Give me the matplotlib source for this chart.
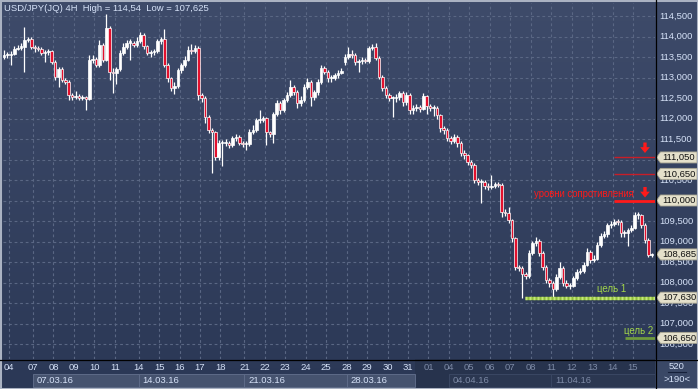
import numpy as np
import matplotlib.pyplot as plt
from matplotlib.patches import Polygon, Rectangle
from matplotlib.lines import Line2D

plt.rcParams['font.family'] = ['Liberation Sans', 'DejaVu Sans']

# ---- data: USD/JPY 4H candles ----
opens = [
    113.50, 113.55, 113.55, 113.58, 113.70, 113.73, 113.75, 113.91, 113.95, 113.75,
    113.72, 113.70, 113.60, 113.62, 113.65, 113.38, 113.01, 113.20, 112.94, 112.90,
    112.57, 112.52, 112.55, 112.50, 112.53, 112.48, 113.43, 113.45, 113.30, 113.80,
    113.43, 114.20, 113.13, 113.10, 113.20, 113.60, 113.75, 113.85, 113.85, 113.80,
    113.90, 114.03, 113.76, 113.60, 113.62, 113.65, 113.88, 113.95, 113.30, 112.98,
    112.74, 112.80, 113.18, 113.30, 113.43, 113.67, 113.65, 113.72, 112.57, 112.50,
    112.03, 111.72, 111.67, 111.06, 111.40, 111.40, 111.40, 111.35, 111.52, 111.55,
    111.40, 111.38, 111.38, 111.67, 111.72, 111.96, 111.97, 112.00, 111.67, 111.62,
    112.10, 112.38, 112.20, 112.45, 112.57, 112.77, 112.65, 112.38, 112.45, 112.77,
    112.89, 112.52, 112.64, 112.89, 113.23, 113.13, 112.98, 113.00, 113.05, 113.12,
    113.38, 113.50, 113.57, 113.55, 113.37, 113.40, 113.42, 113.40, 113.72, 113.75,
    113.47, 113.02, 112.74, 112.57, 112.50, 112.50, 112.52, 112.62, 112.40, 112.57,
    112.20, 112.25, 112.28, 112.23, 112.55, 112.30, 112.25, 112.25, 112.08, 111.77,
    111.72, 111.52, 111.45, 111.55, 111.40, 111.15, 111.10, 110.94, 110.87, 110.50,
    110.45, 110.45, 110.35, 110.33, 110.35, 110.40, 110.38, 109.72, 109.70, 109.52,
    109.09, 108.38, 108.35, 108.20, 108.15, 108.72, 108.97, 109.00, 108.72, 108.38,
    108.06, 108.00, 107.85, 108.13, 108.35, 107.99, 107.92, 107.92, 108.10, 108.25,
    108.28, 108.43, 108.75, 108.55, 108.58, 108.91, 109.14, 109.18, 109.40, 109.43,
    109.48, 109.47, 109.20, 109.20, 109.28, 109.33, 109.65, 109.65, 109.40, 109.03,
    108.67,
]
highs = [
    113.66, 113.62, 113.64, 113.76, 113.80, 113.84, 114.23, 114.00, 114.00, 113.80,
    113.78, 113.74, 113.68, 113.70, 113.68, 113.42, 113.26, 113.25, 113.00, 112.95,
    112.62, 112.68, 112.60, 112.58, 112.56, 113.55, 113.55, 113.50, 113.92, 113.85,
    114.54, 114.25, 113.22, 113.26, 113.66, 113.85, 113.92, 113.95, 113.90, 113.98,
    114.10, 114.08, 113.80, 113.68, 113.70, 113.94, 114.00, 114.18, 113.35, 113.02,
    112.88, 113.24, 113.36, 113.52, 113.78, 113.82, 113.80, 113.76, 112.62, 112.55,
    112.08, 111.78, 111.70, 111.48, 111.48, 111.50, 111.46, 111.58, 111.62, 111.60,
    111.46, 111.45, 111.75, 111.85, 112.02, 112.20, 112.06, 112.04, 111.70, 112.16,
    112.45, 112.42, 112.50, 112.65, 112.94, 112.82, 112.70, 112.55, 112.85, 112.98,
    112.94, 112.70, 112.96, 113.30, 113.28, 113.18, 113.06, 113.10, 113.18, 113.22,
    113.58, 113.75, 113.67, 113.60, 113.46, 113.50, 113.48, 113.78, 113.82, 113.85,
    113.52, 113.06, 112.80, 112.62, 112.56, 112.60, 112.68, 112.66, 112.64, 112.62,
    112.32, 112.35, 112.33, 112.62, 112.58, 112.36, 112.34, 112.30, 112.12, 111.82,
    111.76, 111.58, 111.62, 111.60, 111.44, 111.22, 111.14, 110.98, 110.92, 110.55,
    110.52, 110.50, 110.42, 110.62, 110.46, 110.46, 110.42, 109.80, 109.84, 109.56,
    109.12, 108.42, 108.40, 108.26, 108.80, 109.02, 109.12, 109.06, 108.76, 108.42,
    108.12, 108.04, 108.20, 108.50, 108.40, 108.05, 108.00, 108.16, 108.32, 108.36,
    108.50, 108.84, 108.80, 108.66, 108.98, 109.20, 109.25, 109.46, 109.50, 109.56,
    109.55, 109.52, 109.28, 109.34, 109.40, 109.72, 109.72, 109.68, 109.44, 109.08,
    108.73,
]
lows = [
    113.44, 113.47, 113.30, 113.55, 113.66, 113.68, 113.13, 113.86, 113.70, 113.62,
    113.64, 113.55, 113.37, 113.56, 113.33, 112.95, 112.78, 112.88, 112.84, 112.45,
    112.45, 112.47, 112.44, 112.46, 112.20, 112.45, 113.35, 113.25, 113.25, 113.38,
    113.40, 112.95, 112.62, 112.85, 113.15, 113.55, 113.70, 113.42, 113.74, 113.75,
    113.85, 113.70, 113.55, 113.50, 113.56, 113.60, 113.82, 113.25, 112.90, 112.68,
    112.60, 112.74, 113.12, 113.26, 113.40, 113.58, 113.60, 112.45, 112.40, 111.90,
    111.65, 110.67, 110.98, 111.00, 110.85, 111.32, 111.28, 111.30, 111.46, 111.35,
    111.30, 111.23, 111.33, 111.62, 111.68, 111.90, 111.92, 111.35, 111.55, 111.40,
    112.05, 112.12, 112.15, 112.40, 112.52, 112.58, 112.25, 112.30, 112.40, 112.72,
    112.30, 112.46, 112.58, 112.85, 113.08, 112.90, 112.88, 112.95, 113.00, 113.08,
    113.30, 113.45, 113.48, 113.30, 113.13, 113.34, 113.35, 113.36, 113.66, 113.42,
    112.96, 112.68, 112.50, 112.42, 112.04, 112.40, 112.46, 112.30, 112.34, 112.10,
    112.12, 112.18, 112.16, 112.20, 112.10, 112.18, 112.05, 112.00, 111.68, 111.62,
    111.46, 111.38, 111.40, 111.30, 111.08, 111.02, 110.86, 110.80, 110.42, 110.38,
    109.94, 110.28, 110.25, 110.28, 110.30, 110.32, 109.60, 109.62, 109.46, 109.00,
    108.30, 108.28, 107.625, 108.08, 108.10, 108.68, 108.90, 108.65, 108.30, 107.98,
    107.90, 107.65, 107.80, 108.08, 107.92, 107.86, 107.85, 107.88, 108.05, 108.20,
    108.24, 108.40, 108.48, 108.50, 108.54, 108.86, 109.08, 109.12, 109.34, 109.38,
    109.40, 109.12, 109.10, 108.90, 109.22, 109.30, 109.56, 109.34, 108.96, 108.62,
    108.62,
]
closes = [
    113.55, 113.55, 113.58, 113.70, 113.73, 113.75, 113.91, 113.95, 113.75, 113.72,
    113.70, 113.60, 113.62, 113.65, 113.38, 113.01, 113.20, 112.94, 112.90, 112.57,
    112.52, 112.55, 112.50, 112.53, 112.48, 113.43, 113.45, 113.30, 113.80, 113.43,
    114.20, 113.13, 113.10, 113.20, 113.60, 113.75, 113.85, 113.85, 113.80, 113.90,
    114.03, 113.76, 113.60, 113.62, 113.65, 113.88, 113.95, 113.30, 112.98, 112.74,
    112.80, 113.18, 113.30, 113.43, 113.67, 113.65, 113.72, 112.57, 112.50, 112.03,
    111.72, 111.67, 111.06, 111.40, 111.40, 111.40, 111.35, 111.52, 111.55, 111.40,
    111.38, 111.38, 111.67, 111.72, 111.96, 111.97, 112.00, 111.67, 111.62, 112.10,
    112.38, 112.20, 112.45, 112.57, 112.77, 112.65, 112.38, 112.45, 112.77, 112.89,
    112.52, 112.64, 112.89, 113.23, 113.13, 112.98, 113.00, 113.05, 113.12, 113.15,
    113.50, 113.57, 113.55, 113.37, 113.40, 113.42, 113.40, 113.72, 113.75, 113.47,
    113.02, 112.74, 112.57, 112.50, 112.50, 112.52, 112.62, 112.40, 112.57, 112.20,
    112.25, 112.28, 112.23, 112.55, 112.30, 112.25, 112.25, 112.08, 111.77, 111.72,
    111.52, 111.45, 111.55, 111.40, 111.15, 111.10, 110.94, 110.87, 110.50, 110.45,
    110.45, 110.35, 110.33, 110.35, 110.40, 110.38, 109.72, 109.70, 109.52, 109.09,
    108.38, 108.35, 108.20, 108.15, 108.72, 108.97, 109.00, 108.72, 108.38, 108.06,
    108.00, 107.85, 108.13, 108.35, 107.99, 107.92, 107.92, 108.10, 108.25, 108.28,
    108.43, 108.75, 108.55, 108.58, 108.91, 109.14, 109.18, 109.40, 109.43, 109.48,
    109.47, 109.20, 109.20, 109.28, 109.33, 109.65, 109.65, 109.40, 109.03, 108.67,
    108.68,
]

# first bar of each trading day, and the day labels
day_start = [2, 9, 15, 21, 27, 33, 40, 46, 52, 58, 64, 71, 77, 83, 89, 95, 101,
             107, 113, 119, 125, 131, 137, 143, 149, 155, 161, 167, 173, 179, 185]
day_labels = ['04', '07', '08', '09', '10', '11', '14', '15', '16', '17', '18',
              '21', '22', '23', '24', '25', '28', '29', '30', '31', '01', '04',
              '05', '06', '07', '08', '11', '12', '13', '14', '15']
week_labels = ['07.03.16', '14.03.16', '21.03.16', '28.03.16', '04.04.16', '11.04.16']
week_first_day = [1, 6, 11, 16, 21, 26]

resist_levels = [111.05, 110.65, 110.00]
target_levels = [107.63, 106.65]
target_names = ['цель 1', 'цель 2']
last_price = 108.685
title = 'USD/JPY(JQ) 4H  High = 114,54  Low = 107,625'

# ---- layout helpers (pixel space of the 698x389 image) ----
W, H = 698, 389
PX_PER_BAR = 3.409
PX_PER_YEN = 41.0


def rect(x0, y0, x1, y1):
    return [x0 / W, 1 - y1 / H, (x1 - x0) / W, (y1 - y0) / H]


def px2bar(px):
    return (px - 4) / PX_PER_BAR


def py2price(py):
    return 110 + (200.5 - py) / PX_PER_YEN


def fmt(v):
    return f'{v:.3f}'.replace('.', ',')


TXT = '#d6e2f8'
DIM = '#7d8aa6'
GRID = '#5a6784'
FS = 6.8

fig = plt.figure(figsize=(W / 100, H / 100), dpi=100)

# gradient background
bg = fig.add_axes([0, 0, 1, 1], zorder=-10)
top_c = np.array([62, 75, 106]) / 255
bot_c = np.array([43, 56, 86]) / 255
t = np.linspace(0, 1, 256)[:, None, None]
bg.imshow(top_c + (bot_c - top_c) * t, aspect='auto', extent=[0, 1, 0, 1], origin='upper')
bg.set_xlim(0, 1)
bg.set_ylim(0, 1)
bg.axis('off')

xlim = (px2bar(3), px2bar(655))
ylim = (py2price(359), py2price(3))

# ---- main price panel ----
ax = fig.add_axes(rect(3, 3, 655, 359))
ax.set_facecolor('none')
ax.set_xlim(*xlim)
ax.set_ylim(*ylim)
ax.axis('off')

for lv in np.arange(106.5, 114.51, 0.5):
    ax.axhline(lv, color=GRID, lw=0.8, ls=(0, (2.5, 2.5)), zorder=1)
for d in day_start:
    ax.axvline(d - 0.5, color=GRID, lw=0.8, ls=(0, (2.5, 2.5)), zorder=1)

o = np.array(opens)
c = np.array(closes)
hi = np.array(highs)
lo = np.array(lows)
x = np.arange(len(c))
up = c >= o
ax.vlines(x, lo, hi, color='white', lw=0.9, zorder=3)
ax.bar(x, np.maximum(np.abs(c - o), 0.03), bottom=np.minimum(o, c), width=0.76,
       color=np.where(up, 'white', '#e3102d'), edgecolor='white', linewidth=0.5, zorder=4)

ax.text(px2bar(4.5), py2price(8.5), title, color=TXT, fontsize=FS, va='center', ha='left')

# resistance levels
for lv, lw, col in zip(resist_levels, [1.0, 1.0, 2.0], ['#c81e28', '#c81e28', '#ff1a1a']):
    ax.plot([px2bar(614), xlim[1]], [lv, lv], color=col, lw=lw, zorder=5, solid_capstyle='butt')
for py in [142.5, 187]:
    ax.annotate('', xy=(px2bar(645), py2price(py + 10.5)), xytext=(px2bar(645), py2price(py)),
                arrowprops=dict(arrowstyle='simple,head_width=0.7,head_length=0.42,tail_width=0.24',
                                color='#ff1a1a', lw=0, shrinkA=0, shrinkB=0), zorder=6)
ax.text(px2bar(584), py2price(194), 'уровни сопротивления', color='#ff1a1a',
        fontsize=6.9, ha='center', va='center', zorder=6)

# targets
ax.plot([px2bar(525), xlim[1]], [target_levels[0]] * 2, color='#8fbf3a', lw=2.4, zorder=5,
        solid_capstyle='butt')
ax.plot([px2bar(525), xlim[1]], [target_levels[0]] * 2, color='#c4e67a', lw=2.4,
        ls=(0, (0.6, 0.6)), zorder=5)
ax.plot([px2bar(625), xlim[1]], [target_levels[1]] * 2, color='#6f9a3e', lw=2.0, zorder=5,
        solid_capstyle='butt')
ax.text(px2bar(612), py2price(289), target_names[0], color='#a3d64a', fontsize=7,
        ha='center', va='center')
ax.text(px2bar(639), py2price(331.5), target_names[1], color='#a3d64a', fontsize=7,
        ha='center', va='center')

# ---- right price scale ----
axr = fig.add_axes(rect(655, 3, 698, 359))
axr.set_facecolor('none')
axr.set_xlim(655, 698)
axr.set_ylim(*ylim)
axr.axis('off')
tags = resist_levels + [last_price] + target_levels
for lv in np.arange(106.5, 114.51, 0.5):
    if min(abs(lv - tg) for tg in tags) < 0.1:
        continue  # fully hidden behind a price tag
    axr.text(659, lv, fmt(lv), color=TXT, fontsize=FS, va='center', ha='left', zorder=2)
hh = 5.5 / PX_PER_YEN
for lv in tags:
    axr.add_patch(Polygon([(656.5, lv), (660.5, lv + hh), (697, lv + hh), (697, lv - hh),
                           (660.5, lv - hh)], closed=True, facecolor='#e4e0cb',
                          edgecolor='#a9a692', lw=0.6, zorder=3))
    axr.text(679, lv, fmt(lv), color='#111111', fontsize=FS, va='center', ha='center', zorder=4)

# ---- time axis ----
axb = fig.add_axes(rect(3, 359, 655, 389))
axb.set_facecolor('none')
axb.set_xlim(*xlim)
axb.set_ylim(389, 359)
axb.axis('off')
shade_from = px2bar(415)
axb.add_patch(Rectangle((shade_from, 359), xlim[1] - shade_from, 30, facecolor='#27334d',
                        edgecolor='none', zorder=1))
grid_x = [d - 0.5 for d in day_start]
week_x = [grid_x[i] for i in week_first_day]
week_end = week_x[1:] + [xlim[1]]
for wx, we, lab in zip(week_x, week_end, week_labels):
    dark = wx >= shade_from
    if not dark:
        we = min(we, shade_from)
    axb.add_patch(Rectangle((wx, 373.5), we - wx, 13, facecolor='#2b3751' if dark else '#46536f',
                            edgecolor='#3a4763' if dark else '#5e6b88', lw=0.7, zorder=2))
    axb.text(wx + 4 / PX_PER_BAR, 380.5, lab, color=DIM if dark else TXT,
             fontsize=FS, ha='left', va='center', zorder=3)
for gx, lab in zip(grid_x, day_labels):
    axb.text(gx, 367.5, lab, color=DIM if gx >= shade_from else TXT, fontsize=FS,
             ha='center', va='center', zorder=3)

# bottom-right corner
axc = fig.add_axes(rect(655, 359, 698, 389))
axc.set_facecolor('#3a4866')
axc.set_xlim(655, 698)
axc.set_ylim(389, 359)
axc.axis('off')
axc.add_patch(Rectangle((655, 359), 43, 30, facecolor='#3a4866', edgecolor='none'))
axc.text(677, 366.5, '520', color=TXT, fontsize=FS, ha='center', va='center')
axc.plot([668, 686], [372, 372], color='#15203a', lw=0.8)
axc.text(677, 379.5, '>190<', color=TXT, fontsize=FS, ha='center', va='center')

# separators and frame
fig.add_artist(Line2D([655.5 / W, 655.5 / W], [0, 1], color='black', lw=0.9))
fig.add_artist(Line2D([0, 1], [1 - 359.5 / H, 1 - 359.5 / H], color='black', lw=0.9))
fig.add_artist(Rectangle((0, 0), 1, 1, transform=fig.transFigure, fill=False,
                         edgecolor='#aab2c2', lw=2.2))

fig.savefig('out.png', dpi=100)
